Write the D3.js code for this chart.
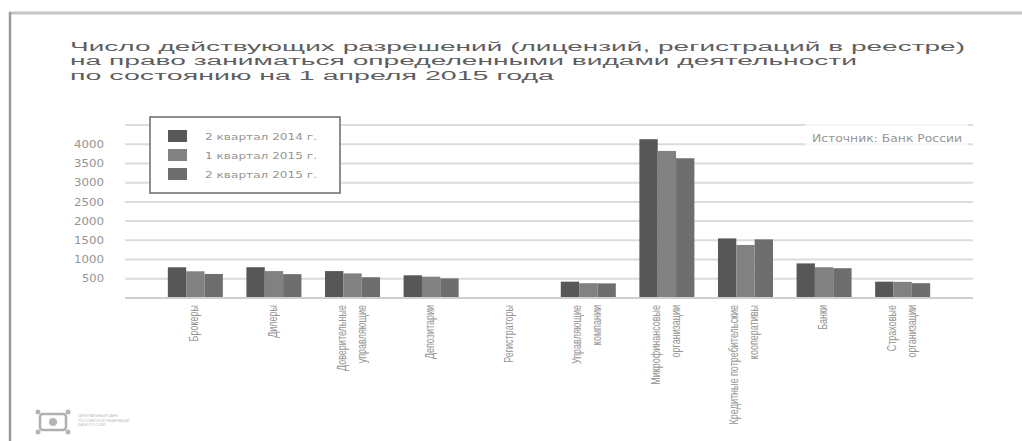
<!DOCTYPE html>
<html>
<head>
<meta charset="utf-8">
<script src="https://cdn.jsdelivr.net/npm/d3@7"></script>
<style>
    body { margin: 0; background: #fff; }
    svg { display: block; font-family: 'Liberation Sans', Arial, sans-serif; }
</style>
</head>
<body>
<svg id="chart" width="1022" height="441"></svg>
<script>
'use strict';

const categories = [
    ['Брокеры'],
    ['Дилеры'],
    ['Доверительные', 'управляющие'],
    ['Депозитарии'],
    ['Регистраторы'],
    ['Управляющие', 'компании'],
    ['Микрофинансовые', 'организации'],
    ['Кредитные потребительские', 'кооперативы'],
    ['Банки'],
    ['Страховые', 'организации']
];
const seriesNames = ['2 квартал 2014 г.', '1 квартал 2015 г.', '2 квартал 2015 г.'];
const q2of2014 = [798, 800, 700, 590, 0, 425, 4130, 1550, 900, 425];
const q1of2015 = [695, 700, 640, 555, 0, 385, 3825, 1380, 800, 420];
const q2of2015 = [625, 620, 540, 510, 0, 380, 3635, 1525, 775, 385];
const yTickLabels = [500, 1000, 1500, 2000, 2500, 3000, 3500, 4000];
const yMax = 4500;

const titleLines = [
    'Число действующих разрешений (лицензий, регистраций в реестре)',
    'на право заниматься определенными видами деятельности',
    'по состоянию на 1 апреля 2015 года'
];
const titleWidths = [895, 787, 484];

const colors = ['#575757', '#818181', '#6e6e6e'];
const svg = d3.select('#chart');

// frame of the slide
svg.append('line')
    .attr('x1', 9).attr('x2', 1022).attr('y1', 13).attr('y2', 13)
    .attr('stroke', '#c6c6c6').attr('stroke-width', 3);
svg.append('line')
    .attr('x1', 10).attr('x2', 10).attr('y1', 12).attr('y2', 441)
    .attr('stroke', '#9a9a9a').attr('stroke-width', 2.5);

// title
svg.append('g').selectAll('text')
    .data(titleLines)
    .enter().append('text')
    .attr('x', 70)
    .attr('y', (d, i) => 51 + i * 14.4)
    .attr('textLength', (d, i) => titleWidths[i])
    .attr('lengthAdjust', 'spacingAndGlyphs')
    .attr('font-size', 12.5)
    .attr('fill', '#5e5e5e')
    .text(d => d);

const x = d3.scaleBand()
    .domain(categories.map(d => d.join(' ')))
    .range([125, 973])
    .paddingInner(0.3)
    .paddingOuter(0.545);

const x1 = d3.scaleBand()
    .domain(seriesNames)
    .range([0, x.bandwidth()]);

const y = d3.scaleLinear()
    .domain([0, yMax])
    .range([298, 125]);

// grid
const gridValues = yTickLabels.concat([yMax]);
svg.append('g').selectAll('line')
    .data(gridValues)
    .enter().append('line')
    .attr('x1', 125).attr('x2', 973)
    .attr('y1', d => y(d)).attr('y2', d => y(d))
    .attr('stroke', '#dcdcdc')
    .attr('stroke-width', 2);

// y axis labels
const yAxis = d3.axisLeft(y)
    .tickValues(yTickLabels)
    .tickFormat(d3.format('d'))
    .tickSize(0)
    .tickPadding(0);
const yAxisG = svg.append('g')
    .attr('transform', 'translate(104,0)')
    .call(yAxis);
yAxisG.select('.domain').remove();
yAxisG.selectAll('text')
    .attr('font-family', 'DejaVu Sans')
    .attr('font-size', 10)
    .attr('fill', '#959595')
    .attr('textLength', d => d >= 1000 ? 30 : 22)
    .attr('lengthAdjust', 'spacingAndGlyphs');

// bars
const seriesValues = [q2of2014, q1of2015, q2of2015];
const barGroups = svg.append('g').selectAll('g')
    .data(categories.map((c, i) => ({ name: c.join(' '), values: seriesValues.map(s => s[i]) })))
    .enter().append('g')
    .attr('transform', d => `translate(${x(d.name)},0)`);

barGroups.selectAll('rect')
    .data(d => d.values.map((v, j) => ({ series: seriesNames[j], value: v, j: j })))
    .enter().append('rect')
    .attr('x', d => x1(d.series))
    .attr('y', d => y(d.value))
    .attr('width', x1.bandwidth())
    .attr('height', d => y(0) - y(d.value))
    .attr('fill', d => colors[d.j]);

// baseline
svg.append('line')
    .attr('x1', 125).attr('x2', 973).attr('y1', y(0)).attr('y2', y(0))
    .attr('stroke', '#cfcfcf').attr('stroke-width', 2);

// category labels, rotated
const labelG = svg.append('g').selectAll('g')
    .data(categories)
    .enter().append('g')
    .attr('transform', d => `translate(${x(d.join(' ')) + x.bandwidth() / 2},0)`);

labelG.selectAll('text')
    .data(d => d.map((line, i) => ({ line: line, off: (i - (d.length - 1) / 2) * 20 })))
    .enter().append('text')
    .attr('transform', d => `translate(${d.off + 3},305) scale(1.5,1) rotate(-90)`)
    .attr('text-anchor', 'end')
    .attr('font-size', 9)
    .attr('fill', '#959595')
    .text(d => d.line);

// legend
const legend = svg.append('g');
legend.append('rect')
    .attr('x', 150).attr('y', 117).attr('width', 190).attr('height', 76)
    .attr('fill', '#fff').attr('stroke', '#6a6a6a').attr('stroke-width', 1.5);

const legendRows = legend.selectAll('g')
    .data(seriesNames)
    .enter().append('g')
    .attr('transform', (d, i) => `translate(0,${136 + i * 19})`);

legendRows.append('rect')
    .attr('x', 168).attr('y', -6).attr('width', 19).attr('height', 12)
    .attr('fill', (d, i) => colors[i]);

legendRows.append('text')
    .attr('x', 205).attr('y', 3.5)
    .attr('textLength', 112)
    .attr('lengthAdjust', 'spacingAndGlyphs')
    .attr('font-family', 'DejaVu Sans')
    .attr('font-size', 9.5)
    .attr('fill', '#959595')
    .text(d => d);

// source note
svg.append('rect')
    .attr('x', 805).attr('y', 122).attr('width', 163).attr('height', 28)
    .attr('fill', '#fff').attr('opacity', 0.75);
svg.append('text')
    .attr('x', 812).attr('y', 142)
    .attr('textLength', 150)
    .attr('lengthAdjust', 'spacingAndGlyphs')
    .attr('font-family', 'DejaVu Sans')
    .attr('font-size', 10)
    .attr('fill', '#959595')
    .text('Источник: Банк России');

// logo at the bottom
const logo = svg.append('g').attr('fill', '#b5b5b5');
logo.append('rect').attr('x', 40).attr('y', 414).attr('width', 26).attr('height', 16).attr('rx', 3)
    .attr('fill', 'none').attr('stroke', '#b0b0b0').attr('stroke-width', 2.5);
logo.append('circle').attr('cx', 53).attr('cy', 422).attr('r', 4);
[[38, 412], [68, 412], [38, 432], [68, 432]].forEach(p => {
    logo.append('circle').attr('cx', p[0]).attr('cy', p[1]).attr('r', 2.5);
});
['ЦЕНТРАЛЬНЫЙ БАНК', 'РОССИЙСКОЙ ФЕДЕРАЦИИ', 'БАНК РОССИИ'].forEach((t, i) => {
    logo.append('text')
        .attr('x', 78).attr('y', 417 + i * 4.5)
        .attr('font-size', 3.8)
        .attr('fill', '#bdbdbd')
        .text(t);
});
</script>
</body>
</html>
